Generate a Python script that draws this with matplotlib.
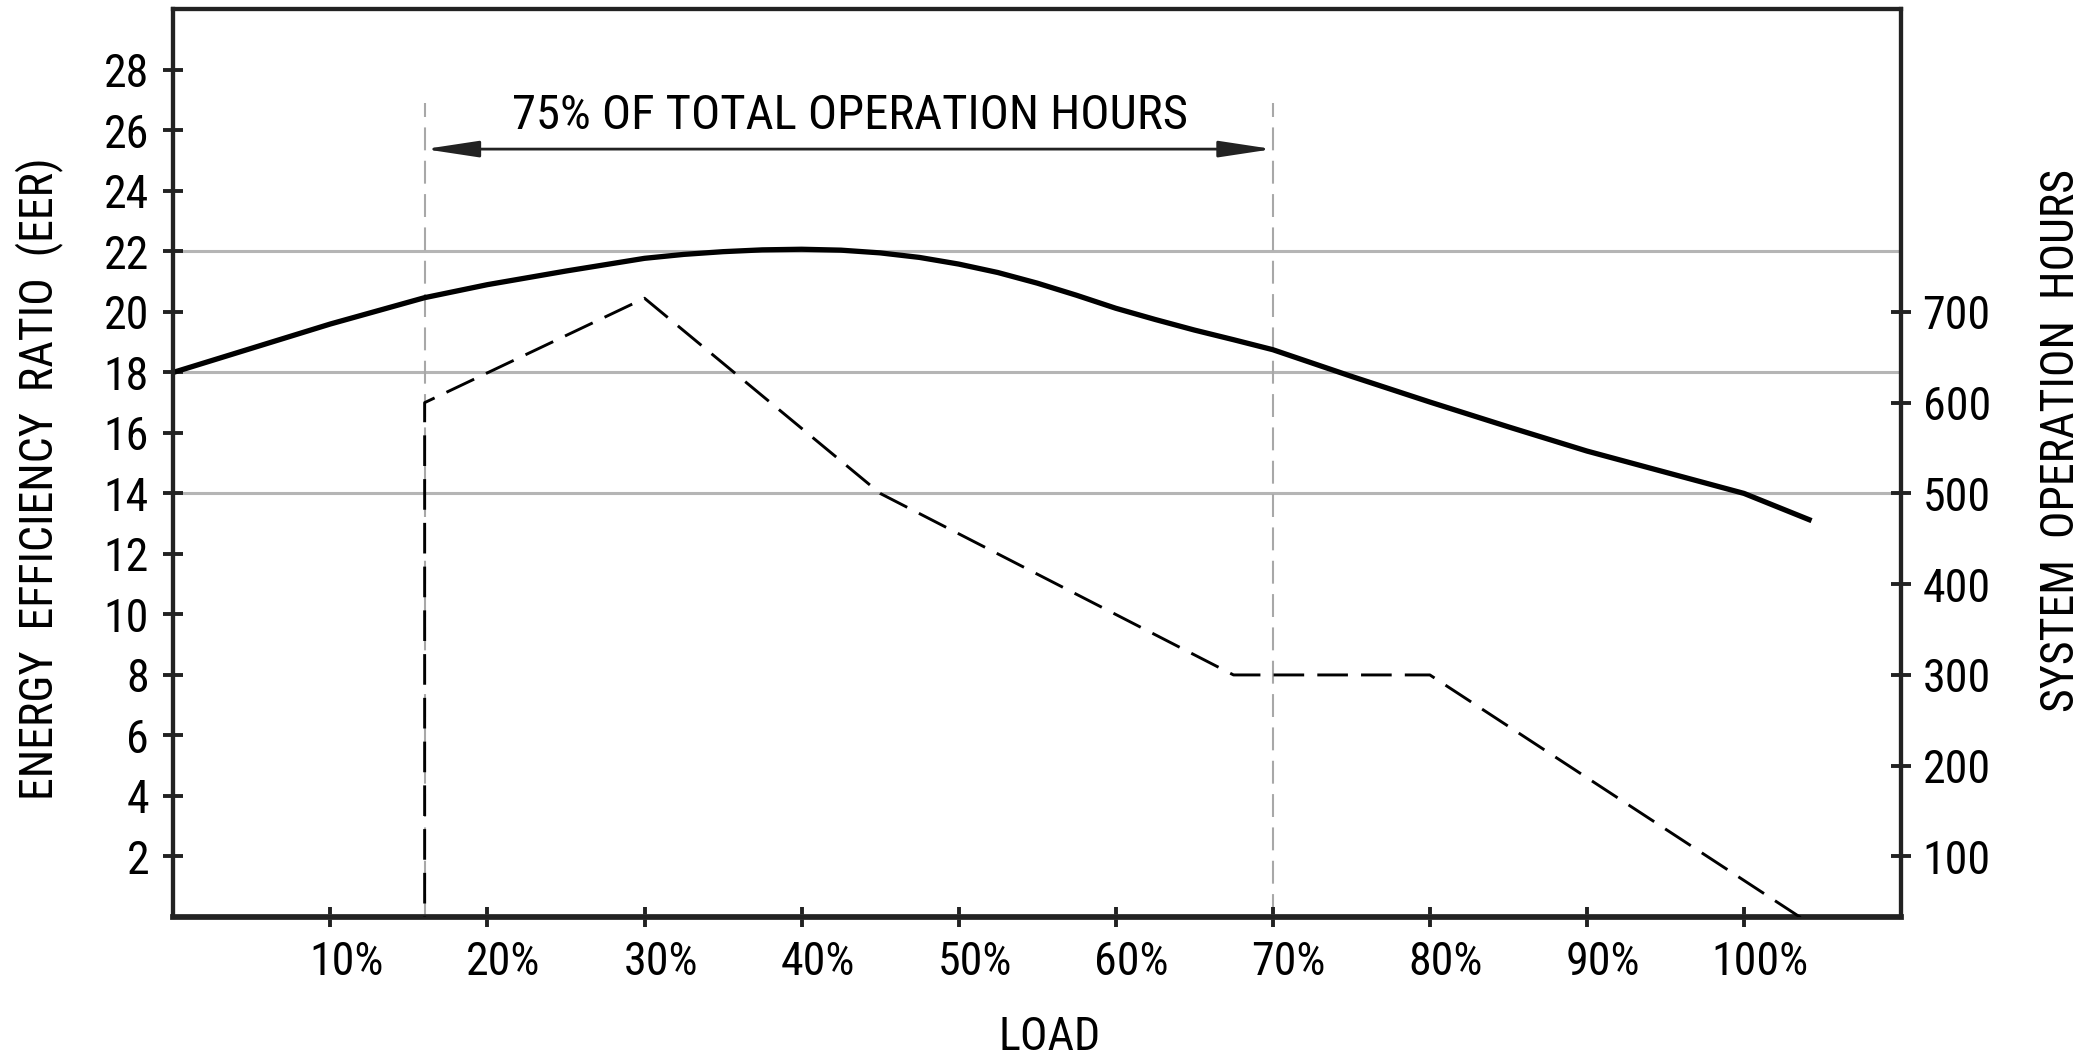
import matplotlib
matplotlib.use("Agg")
import matplotlib.pyplot as plt
from matplotlib import font_manager
from matplotlib.transforms import ScaledTranslation

# EER of the unit across the load range
load_pct = [0, 5, 10, 16, 20, 25, 30, 32.5, 35, 37.5, 40, 42.5, 45, 47.5, 50, 52.5, 55, 57.5, 60,
            62.5, 65, 67.5, 70, 75, 80, 85, 90, 95, 100, 104.3]
eer = [18.0, 18.8, 19.6, 20.47, 20.9, 21.35, 21.77, 21.9, 21.99, 22.05, 22.07, 22.04, 21.95, 21.8,
       21.58, 21.3, 20.95, 20.55, 20.12, 19.75, 19.4, 19.08, 18.75, 17.87, 17.02, 16.2, 15.4, 14.7,
       14.0, 13.1]

# operating hours spent at each load
hours_load = [16, 16, 30, 45, 67.5, 80, 106.5]
hours = [0, 600, 715, 500, 300, 300, 0]

# load span that holds 75% of the hours
window = [16, 70]
window_text = "75% OF TOTAL OPERATION HOURS"

eer_ticks = list(range(2, 29, 2))
hour_ticks = list(range(100, 701, 100))
load_ticks = list(range(10, 101, 10))
load_labels = [f"{t}%" for t in load_ticks]
grid_levels = [14, 18, 22]


def pick_narrow_font():
    # prefer a narrow sans, the lettering is condensed
    found = []
    for f in font_manager.fontManager.ttflist:
        narrow = "Narrow" in f.name or "Condensed" in f.name or \
            str(f.stretch) in ("condensed", "semi-condensed", "extra-condensed")
        if narrow and "CJK" not in f.name and "Mono" not in f.name and "Serif" not in f.name:
            found.append((f.name, str(f.stretch)))
    for key in ("Liberation", "Roboto", "Open Sans", "Noto Sans", "DejaVu", ""):
        for name, stretch in found:
            if key in name:
                return name, stretch
    return "Liberation Sans", "normal"


family, stretch = pick_narrow_font()
plt.rcParams["font.family"] = [family, "DejaVu Sans"]
if stretch in ("condensed", "semi-condensed", "extra-condensed"):
    plt.rcParams["font.stretch"] = stretch
narrow_font = family != "Liberation Sans"

tick_size = 33 if narrow_font else 31
label_size = 33 if narrow_font else 30
note_size = 35 if narrow_font else 32

ink = "#222222"
fig = plt.figure(figsize=(20.96, 10.59), dpi=100)
ax = fig.add_axes([0.0827, 0.1341, 0.8243, 0.8571])
ax2 = ax.twinx()

ax.set_xlim(0, 110)
ax.set_ylim(0, 30)
# hours axis lines up 100 h with EER 2 and 700 h with EER 20
ax2.set_ylim(100 - 2 / 0.03, 100 + 28 / 0.03)

for level in grid_levels:
    ax.axhline(level, color="#b5b5b5", lw=2.2, zorder=1)

ax.vlines(window, 0, 26.9, colors="#a8a8a8", lw=1.5, linestyles=(0, (11, 5)), zorder=1)

ax.plot(load_pct, eer, color="black", lw=3.8, solid_capstyle="butt", solid_joinstyle="round", zorder=3)
ax2.plot(hours_load, hours, color="black", lw=2.1, linestyle=(0, (10.5, 4.5)), zorder=3)

ax.annotate("", xy=(window[1], 25.38), xytext=(window[0], 25.38),
            arrowprops=dict(arrowstyle="<|-|>,head_length=3.3,head_width=0.5",
                            color=ink, lw=2.0, shrinkA=0, shrinkB=0, mutation_scale=10))
ax.text(43.06, 26.04, window_text, ha="center", va="baseline", fontsize=note_size, color="black")

ax.set_yticks(eer_ticks)
ax.set_xticks(load_ticks)
ax.set_xticklabels(load_labels)
ax2.set_yticks(hour_ticks)

ax.tick_params(axis="both", direction="inout", length=15, width=2.8, color=ink,
               labelsize=tick_size, labelcolor="black")
ax.tick_params(axis="y", pad=10)
ax.tick_params(axis="x", pad=9)
ax2.tick_params(axis="y", direction="inout", length=15, width=2.8, color=ink,
                labelsize=tick_size, labelcolor="black", pad=8)

# keep the digits over the tick, the percent sign hangs to the right
shift = ScaledTranslation(0.16, 0, fig.dpi_scale_trans)
for lab in ax.get_xticklabels():
    lab.set_transform(lab.get_transform() + shift)

for a in (ax, ax2):
    for side in a.spines.values():
        side.set_linewidth(3.0)
        side.set_color(ink)
ax.spines["bottom"].set_linewidth(4.2)
ax.spines["bottom"].set_color("#333333")

ax.set_xlabel("LOAD", fontsize=label_size)
ax.xaxis.set_label_coords(0.507, -0.108)
ax.set_ylabel("ENERGY  EFFICIENCY  RATIO  (EER)", fontsize=label_size)
ax.yaxis.set_label_coords(-0.064, 0.4825)
ax2.set_ylabel("SYSTEM  OPERATION  HOURS", fontsize=label_size)
ax2.yaxis.set_label_coords(1.08, 0.5255)

fig.savefig("out.png", dpi=100, facecolor="white")
